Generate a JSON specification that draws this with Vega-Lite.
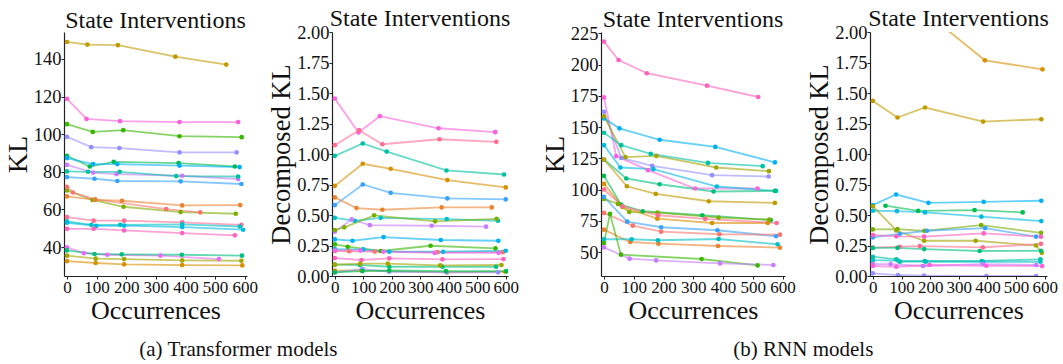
{
  "$schema": "https://vega.github.io/schema/vega-lite/v6.json",
  "padding": {"left": 4, "top": 7, "right": 0, "bottom": 0},
  "background": "white",
  "config": {
    "font": "Liberation Serif",
    "view": {"stroke": null},
    "axis": {"grid": false, "domainColor": "#222", "domainWidth": 1.2, "tickColor": "#222", "tickSize": 3, "labelColor": "#111", "titleColor": "#111", "labelFont": "Liberation Serif", "titleFont": "Liberation Serif", "titleFontWeight": "normal", "labelFontSize": 18.5},
    "title": {"font": "Liberation Serif", "fontWeight": "normal", "color": "#111"},
    "concat": {"spacing": 10}
  },
  "datasets": {
    "p1": [
      {"m":4,"x":0,"y":149.0},{"m":4,"x":69,"y":147.6},{"m":4,"x":172,"y":147.3},{"m":4,"x":366,"y":141.2},{"m":4,"x":538,"y":137.0},
      {"m":18,"x":0,"y":118.8},{"m":18,"x":66,"y":108.1},{"m":18,"x":179,"y":106.9},{"m":18,"x":380,"y":106.4},{"m":18,"x":578,"y":106.4},
      {"m":7,"x":0,"y":105.3},{"m":7,"x":87,"y":101.2},{"m":7,"x":190,"y":102.1},{"m":7,"x":380,"y":98.9},{"m":7,"x":590,"y":98.4},
      {"m":15,"x":0,"y":98.6},{"m":15,"x":82,"y":93.1},{"m":15,"x":177,"y":92.6},{"m":15,"x":380,"y":90.3},{"m":15,"x":573,"y":90.3},
      {"m":8,"x":0,"y":88.5},{"m":8,"x":77,"y":82.8},{"m":8,"x":158,"y":85.3},{"m":8,"x":377,"y":84.6},{"m":8,"x":567,"y":82.8},
      {"m":13,"x":0,"y":87.3},{"m":13,"x":88,"y":84.1},{"m":13,"x":170,"y":84.1},{"m":13,"x":380,"y":83.3},{"m":13,"x":583,"y":82.5},
      {"m":16,"x":0,"y":83.7},{"m":16,"x":88,"y":79.6},{"m":16,"x":167,"y":78.8},{"m":16,"x":389,"y":77.9},{"m":16,"x":578,"y":76.1},
      {"m":10,"x":0,"y":80.2},{"m":10,"x":71,"y":80.0},{"m":10,"x":178,"y":80.0},{"m":10,"x":369,"y":77.7},{"m":10,"x":578,"y":77.5},
      {"m":14,"x":0,"y":77.2},{"m":14,"x":93,"y":76.3},{"m":14,"x":170,"y":75.1},{"m":14,"x":384,"y":74.9},{"m":14,"x":589,"y":73.5},
      {"m":6,"x":0,"y":70.1},{"m":6,"x":86,"y":65.0},{"m":6,"x":191,"y":61.4},{"m":6,"x":384,"y":58.6},{"m":6,"x":570,"y":57.7},
      {"m":1,"x":0,"y":72.0},{"m":1,"x":20,"y":69.0},{"m":1,"x":95,"y":65.3},{"m":1,"x":335,"y":60.2},{"m":1,"x":450,"y":58.4},
      {"m":2,"x":0,"y":66.9},{"m":2,"x":96,"y":65.1},{"m":2,"x":186,"y":64.6},{"m":2,"x":389,"y":62.1},{"m":2,"x":585,"y":62.3},
      {"m":20,"x":0,"y":55.9},{"m":20,"x":90,"y":54.0},{"m":20,"x":193,"y":54.0},{"m":20,"x":389,"y":53.1},{"m":20,"x":589,"y":51.8},
      {"m":11,"x":0,"y":53.6},{"m":11,"x":82,"y":51.8},{"m":11,"x":180,"y":51.8},{"m":11,"x":389,"y":52.0},{"m":11,"x":584,"y":50.9},
      {"m":12,"x":0,"y":52.9},{"m":12,"x":99,"y":51.2},{"m":12,"x":193,"y":51.4},{"m":12,"x":389,"y":50.6},{"m":12,"x":595,"y":49.2},
      {"m":19,"x":0,"y":49.7},{"m":19,"x":90,"y":49.7},{"m":19,"x":193,"y":48.8},{"m":19,"x":389,"y":47.4},{"m":19,"x":567,"y":46.2},
      {"m":17,"x":0,"y":39.8},{"m":17,"x":57,"y":36.8},{"m":17,"x":136,"y":35.9},{"m":17,"x":316,"y":35.4},{"m":17,"x":513,"y":33.6},
      {"m":9,"x":0,"y":38.2},{"m":9,"x":93,"y":36.3},{"m":9,"x":185,"y":36.1},{"m":9,"x":388,"y":35.9},{"m":9,"x":591,"y":35.4},
      {"m":5,"x":0,"y":35.4},{"m":5,"x":97,"y":33.8},{"m":5,"x":193,"y":33.6},{"m":5,"x":389,"y":32.9},{"m":5,"x":589,"y":32.7},
      {"m":3,"x":0,"y":32.5},{"m":3,"x":97,"y":31.5},{"m":3,"x":193,"y":30.8},{"m":3,"x":389,"y":30.4},{"m":3,"x":592,"y":30.2}
    ],
    "p2": [
      {"m":18,"x":0,"y":1.454},{"m":18,"x":83,"y":1.176},{"m":18,"x":158,"y":1.310},{"m":18,"x":364,"y":1.211},{"m":18,"x":563,"y":1.179},
      {"m":20,"x":0,"y":1.072},{"m":20,"x":85,"y":1.195},{"m":20,"x":167,"y":1.080},{"m":20,"x":367,"y":1.121},{"m":20,"x":567,"y":1.100},
      {"m":10,"x":0,"y":0.985},{"m":10,"x":98,"y":1.086},{"m":10,"x":182,"y":1.020},{"m":10,"x":392,"y":0.865},{"m":10,"x":594,"y":0.832},
      {"m":3,"x":0,"y":0.739},{"m":3,"x":98,"y":0.920},{"m":3,"x":196,"y":0.879},{"m":3,"x":395,"y":0.786},{"m":3,"x":600,"y":0.726},
      {"m":14,"x":0,"y":0.581},{"m":14,"x":98,"y":0.750},{"m":14,"x":196,"y":0.682},{"m":14,"x":395,"y":0.636},{"m":14,"x":600,"y":0.628},
      {"m":2,"x":0,"y":0.644},{"m":2,"x":76,"y":0.557},{"m":2,"x":167,"y":0.543},{"m":2,"x":375,"y":0.562},{"m":2,"x":551,"y":0.562},
      {"m":11,"x":0,"y":0.477},{"m":11,"x":70,"y":0.453},{"m":11,"x":161,"y":0.477},{"m":11,"x":393,"y":0.467},{"m":11,"x":573,"y":0.453},
      {"m":16,"x":0,"y":0.363},{"m":16,"x":59,"y":0.464},{"m":16,"x":123,"y":0.417},{"m":16,"x":340,"y":0.412},{"m":16,"x":531,"y":0.404},
      {"m":6,"x":0,"y":0.377},{"m":6,"x":33,"y":0.399},{"m":6,"x":138,"y":0.497},{"m":6,"x":352,"y":0.448},{"m":6,"x":568,"y":0.469},
      {"m":13,"x":0,"y":0.300},{"m":13,"x":62,"y":0.289},{"m":13,"x":171,"y":0.319},{"m":13,"x":372,"y":0.295},{"m":13,"x":574,"y":0.289},
      {"m":7,"x":0,"y":0.259},{"m":7,"x":45,"y":0.240},{"m":7,"x":161,"y":0.205},{"m":7,"x":336,"y":0.248},{"m":7,"x":564,"y":0.227},
      {"m":1,"x":0,"y":0.205},{"m":1,"x":50,"y":0.203},{"m":1,"x":140,"y":0.200},{"m":1,"x":360,"y":0.195},{"m":1,"x":590,"y":0.195},
      {"m":12,"x":0,"y":0.221},{"m":12,"x":100,"y":0.218},{"m":12,"x":191,"y":0.199},{"m":12,"x":380,"y":0.199},{"m":12,"x":600,"y":0.207},
      {"m":17,"x":0,"y":0.210},{"m":17,"x":90,"y":0.210},{"m":17,"x":170,"y":0.200},{"m":17,"x":350,"y":0.190},{"m":17,"x":575,"y":0.190},
      {"m":19,"x":0,"y":0.147},{"m":19,"x":93,"y":0.131},{"m":19,"x":191,"y":0.145},{"m":19,"x":378,"y":0.137},{"m":19,"x":592,"y":0.139},
      {"m":9,"x":0,"y":0.093},{"m":9,"x":88,"y":0.090},{"m":9,"x":191,"y":0.076},{"m":9,"x":378,"y":0.076},{"m":9,"x":566,"y":0.076},
      {"m":5,"x":0,"y":0.093},{"m":5,"x":89,"y":0.101},{"m":5,"x":186,"y":0.101},{"m":5,"x":370,"y":0.087},{"m":5,"x":585,"y":0.090},
      {"m":4,"x":0,"y":0.044},{"m":4,"x":93,"y":0.046},{"m":4,"x":191,"y":0.040},{"m":4,"x":394,"y":0.030},{"m":4,"x":598,"y":0.035},
      {"m":15,"x":0,"y":0.030},{"m":15,"x":97,"y":0.057},{"m":15,"x":191,"y":0.035},{"m":15,"x":392,"y":0.030},{"m":15,"x":573,"y":0.030},
      {"m":8,"x":0,"y":0.030},{"m":8,"x":97,"y":0.040},{"m":8,"x":191,"y":0.045},{"m":8,"x":390,"y":0.040},{"m":8,"x":602,"y":0.040}
    ],
    "p3": [
      {"m":19,"x":0,"y":218.3},{"m":19,"x":49,"y":203.6},{"m":19,"x":144,"y":193.0},{"m":19,"x":346,"y":183.1},{"m":19,"x":518,"y":174.0},
      {"m":18,"x":0,"y":173.7},{"m":18,"x":41,"y":126.7},{"m":18,"x":148,"y":115.5},{"m":18,"x":306,"y":100.8},{"m":18,"x":516,"y":100.8},
      {"m":15,"x":0,"y":162.2},{"m":15,"x":58,"y":125.3},{"m":15,"x":162,"y":118.9},{"m":15,"x":363,"y":111.5},{"m":15,"x":553,"y":110.4},
      {"m":13,"x":0,"y":156.9},{"m":13,"x":52,"y":148.9},{"m":13,"x":187,"y":139.8},{"m":13,"x":374,"y":134.1},{"m":13,"x":574,"y":121.7},
      {"m":5,"x":0,"y":158.5},{"m":5,"x":72,"y":125.9},{"m":5,"x":176,"y":126.9},{"m":5,"x":377,"y":117.6},{"m":5,"x":554,"y":114.7},
      {"m":10,"x":0,"y":145.4},{"m":10,"x":58,"y":135.5},{"m":10,"x":157,"y":128.5},{"m":10,"x":349,"y":121.3},{"m":10,"x":533,"y":118.7},
      {"m":12,"x":0,"y":135.5},{"m":12,"x":55,"y":117.6},{"m":12,"x":166,"y":116.3},{"m":12,"x":379,"y":102.4},{"m":12,"x":578,"y":98.9},
      {"m":9,"x":0,"y":124.0},{"m":9,"x":75,"y":108.8},{"m":9,"x":187,"y":104.2},{"m":9,"x":368,"y":98.4},{"m":9,"x":574,"y":98.9},
      {"m":4,"x":0,"y":124.0},{"m":4,"x":77,"y":102.6},{"m":4,"x":174,"y":96.5},{"m":4,"x":352,"y":90.6},{"m":4,"x":574,"y":89.3},
      {"m":8,"x":0,"y":110.9},{"m":8,"x":57,"y":88.0},{"m":8,"x":130,"y":82.6},{"m":8,"x":330,"y":79.4},{"m":8,"x":560,"y":75.5},
      {"m":6,"x":0,"y":92.5},{"m":6,"x":47,"y":88.5},{"m":6,"x":85,"y":82.0},{"m":6,"x":180,"y":81.5},{"m":6,"x":385,"y":77.5},{"m":6,"x":555,"y":76.0},
      {"m":3,"x":0,"y":104.5},{"m":3,"x":62,"y":86.0},{"m":3,"x":179,"y":76.7},{"m":3,"x":363,"y":73.2},{"m":3,"x":550,"y":73.2},
      {"m":20,"x":0,"y":100.0},{"m":20,"x":62,"y":86.6},{"m":20,"x":182,"y":79.4},{"m":20,"x":340,"y":76.5},{"m":20,"x":580,"y":73.2},
      {"m":14,"x":0,"y":94.1},{"m":14,"x":78,"y":74.3},{"m":14,"x":192,"y":69.8},{"m":14,"x":381,"y":67.4},{"m":14,"x":578,"y":62.6},
      {"m":1,"x":0,"y":81.3},{"m":1,"x":97,"y":71.1},{"m":1,"x":192,"y":66.3},{"m":1,"x":388,"y":64.2},{"m":1,"x":591,"y":63.9},
      {"m":2,"x":0,"y":67.9},{"m":2,"x":88,"y":58.0},{"m":2,"x":183,"y":56.7},{"m":2,"x":383,"y":54.8},{"m":2,"x":591,"y":53.5},
      {"m":11,"x":0,"y":60.2},{"m":11,"x":93,"y":60.2},{"m":11,"x":181,"y":59.4},{"m":11,"x":385,"y":60.4},{"m":11,"x":583,"y":56.2},
      {"m":7,"x":0,"y":57.2},{"m":7,"x":20,"y":80.5},{"m":7,"x":57,"y":47.9},{"m":7,"x":328,"y":44.4},{"m":7,"x":516,"y":39.3},
      {"m":16,"x":0,"y":53.7},{"m":16,"x":86,"y":44.7},{"m":16,"x":175,"y":43.3},{"m":16,"x":390,"y":40.9},{"m":16,"x":569,"y":39.6}
    ],
    "p4": [
      {"m":3,"x":0,"y":2.6},{"m":3,"x":90,"y":2.4},{"m":3,"x":190,"y":2.15},{"m":3,"x":391,"y":1.768},{"m":3,"x":592,"y":1.694},
      {"m":4,"x":0,"y":1.435},{"m":4,"x":86,"y":1.299},{"m":4,"x":182,"y":1.381},{"m":4,"x":385,"y":1.266},{"m":4,"x":588,"y":1.285},
      {"m":13,"x":0,"y":0.581},{"m":13,"x":81,"y":0.668},{"m":13,"x":194,"y":0.600},{"m":13,"x":387,"y":0.608},{"m":13,"x":588,"y":0.617},
      {"m":8,"x":44,"y":0.576},{"m":8,"x":158,"y":0.534},{"m":8,"x":355,"y":0.540},{"m":8,"x":523,"y":0.521},
      {"m":12,"x":0,"y":0.535},{"m":12,"x":84,"y":0.532},{"m":12,"x":182,"y":0.521},{"m":12,"x":379,"y":0.486},{"m":12,"x":588,"y":0.450},
      {"m":5,"x":0,"y":0.572},{"m":5,"x":82,"y":0.373},{"m":5,"x":179,"y":0.289},{"m":5,"x":359,"y":0.289},{"m":5,"x":570,"y":0.250},{"m":5,"x":590,"y":0.190},
      {"m":6,"x":0,"y":0.382},{"m":6,"x":86,"y":0.385},{"m":6,"x":180,"y":0.370},{"m":6,"x":378,"y":0.417},{"m":6,"x":587,"y":0.354},
      {"m":14,"x":0,"y":0.317},{"m":14,"x":94,"y":0.346},{"m":14,"x":189,"y":0.371},{"m":14,"x":392,"y":0.393},{"m":14,"x":570,"y":0.322},
      {"m":19,"x":0,"y":0.336},{"m":19,"x":82,"y":0.325},{"m":19,"x":179,"y":0.322},{"m":19,"x":387,"y":0.349},{"m":19,"x":587,"y":0.322},
      {"m":20,"x":0,"y":0.232},{"m":20,"x":94,"y":0.240},{"m":20,"x":164,"y":0.245},{"m":20,"x":384,"y":0.234},{"m":20,"x":587,"y":0.264},
      {"m":9,"x":0,"y":0.230},{"m":9,"x":86,"y":0.230},{"m":9,"x":179,"y":0.221},{"m":9,"x":373,"y":0.205},{"m":9,"x":587,"y":0.207},
      {"m":10,"x":0,"y":0.158},{"m":10,"x":82,"y":0.137},{"m":10,"x":94,"y":0.117},{"m":10,"x":181,"y":0.123},{"m":10,"x":380,"y":0.123},{"m":10,"x":585,"y":0.137},
      {"m":11,"x":0,"y":0.130},{"m":11,"x":90,"y":0.125},{"m":11,"x":185,"y":0.117},{"m":11,"x":385,"y":0.117},{"m":11,"x":585,"y":0.117},
      {"m":16,"x":0,"y":0.098},{"m":16,"x":62,"y":0.098},{"m":16,"x":175,"y":0.082},{"m":16,"x":384,"y":0.098},{"m":16,"x":570,"y":0.090},
      {"m":18,"x":0,"y":0.082},{"m":18,"x":82,"y":0.076},{"m":18,"x":198,"y":0.090},{"m":18,"x":396,"y":0.084},{"m":18,"x":591,"y":0.082},
      {"m":15,"x":0,"y":0.022},{"m":15,"x":88,"y":0.008},{"m":15,"x":179,"y":0.003},{"m":15,"x":396,"y":0.0},{"m":15,"x":570,"y":0.0}
    ]
  },
  "hconcat": [
    {
      "title": {"text": "(a) Transformer models", "orient": "bottom", "fontSize": 21, "offset": 16, "anchor": "middle", "dx": -23},
      "spacing": 10,
      "hconcat": [
        {
          "width": 183, "height": 244,
          "title": {"text": "State Interventions", "fontSize": 24, "offset": -1},
          "data": {"name": "p1"},
          "encoding": {
            "x": {"field": "x", "type": "quantitative", "scale": {"domain": [-10, 608], "nice": false, "zero": false}, "axis": {"title": "Occurrences", "titleFontSize": 26, "values": [0,100,200,300,400,500,600], "labelOverlap": false, "labelFlush": false, "labelPadding": 0, "titlePadding": 2, "labelFontSize": 17}},
            "y": {"field": "y", "type": "quantitative", "scale": {"domain": [24.6, 154.3], "nice": false, "zero": false}, "axis": {"title": "KL", "titleFontSize": 28, "values": [40,60,80,100,120,140], "labelPadding": 0, "titlePadding": 1}},
            "color": {"field": "m", "type": "nominal", "legend": null, "scale": {"domain": [1,2,3,4,5,6,7,8,9,10,11,12,13,14,15,16,17,18,19,20], "range": ["#F8766D","#EA8331","#D89000","#C09B00","#A3A500","#7CAE00","#39B600","#00BB4E","#00BF7D","#00C1A3","#00BFC4","#00BAE0","#00B0F6","#35A2FF","#9590FF","#C77CFF","#E76BF3","#FA62DB","#FF62BC","#FF6C91"]}}
          },
          "layer": [
            {"mark": {"type": "line", "strokeWidth": 1.8, "opacity": 0.6, "clip": true}},
            {"mark": {"type": "circle", "size": 22, "opacity": 1, "clip": true}}
          ]
        },
        {
          "width": 176, "height": 244,
          "title": {"text": "State Interventions", "fontSize": 24, "offset": -8},
          "data": {"name": "p2"},
          "encoding": {
            "x": {"field": "x", "type": "quantitative", "scale": {"domain": [-10, 608], "nice": false, "zero": false}, "axis": {"title": "Occurrences", "titleFontSize": 26, "values": [0,100,200,300,400,500,600], "labelOverlap": false, "labelFlush": false, "labelPadding": 0, "titlePadding": 2, "labelFontSize": 17}},
            "y": {"field": "y", "type": "quantitative", "scale": {"domain": [0, 2], "nice": false}, "axis": {"title": "Decomposed KL", "titleFontSize": 26.5, "values": [0,0.25,0.5,0.75,1,1.25,1.5,1.75,2], "format": ".2f", "labelPadding": 0, "titlePadding": 1}},
            "color": {"field": "m", "type": "nominal", "legend": null, "scale": {"domain": [1,2,3,4,5,6,7,8,9,10,11,12,13,14,15,16,17,18,19,20], "range": ["#F8766D","#EA8331","#D89000","#C09B00","#A3A500","#7CAE00","#39B600","#00BB4E","#00BF7D","#00C1A3","#00BFC4","#00BAE0","#00B0F6","#35A2FF","#9590FF","#C77CFF","#E76BF3","#FA62DB","#FF62BC","#FF6C91"]}}
          },
          "layer": [
            {"mark": {"type": "line", "strokeWidth": 1.8, "opacity": 0.6, "clip": true}},
            {"mark": {"type": "circle", "size": 22, "opacity": 1, "clip": true}}
          ]
        }
      ]
    },
    {
      "title": {"text": "(b) RNN models", "orient": "bottom", "fontSize": 21, "offset": 16, "anchor": "middle", "dx": 4},
      "spacing": 10,
      "hconcat": [
        {
          "width": 184, "height": 244,
          "title": {"text": "State Interventions", "fontSize": 24, "offset": -8},
          "data": {"name": "p3"},
          "encoding": {
            "x": {"field": "x", "type": "quantitative", "scale": {"domain": [-10, 608], "nice": false, "zero": false}, "axis": {"title": "Occurrences", "titleFontSize": 26, "values": [0,100,200,300,400,500,600], "labelOverlap": false, "labelFlush": false, "labelPadding": 0, "titlePadding": 2, "labelFontSize": 17}},
            "y": {"field": "y", "type": "quantitative", "scale": {"domain": [30.8, 226], "nice": false, "zero": false}, "axis": {"title": "KL", "titleFontSize": 28, "values": [50,75,100,125,150,175,200,225], "labelPadding": 0, "titlePadding": 1}},
            "color": {"field": "m", "type": "nominal", "legend": null, "scale": {"domain": [1,2,3,4,5,6,7,8,9,10,11,12,13,14,15,16,17,18,19,20], "range": ["#F8766D","#EA8331","#D89000","#C09B00","#A3A500","#7CAE00","#39B600","#00BB4E","#00BF7D","#00C1A3","#00BFC4","#00BAE0","#00B0F6","#35A2FF","#9590FF","#C77CFF","#E76BF3","#FA62DB","#FF62BC","#FF6C91"]}}
          },
          "layer": [
            {"mark": {"type": "line", "strokeWidth": 1.8, "opacity": 0.6, "clip": true}},
            {"mark": {"type": "circle", "size": 22, "opacity": 1, "clip": true}}
          ]
        },
        {
          "width": 177, "height": 244,
          "title": {"text": "State Interventions", "fontSize": 24, "offset": -8},
          "data": {"name": "p4"},
          "encoding": {
            "x": {"field": "x", "type": "quantitative", "scale": {"domain": [-10, 608], "nice": false, "zero": false}, "axis": {"title": "Occurrences", "titleFontSize": 26, "values": [0,100,200,300,400,500,600], "labelOverlap": false, "labelFlush": false, "labelPadding": 0, "titlePadding": 2, "labelFontSize": 17}},
            "y": {"field": "y", "type": "quantitative", "scale": {"domain": [0, 2], "nice": false}, "axis": {"title": "Decomposed KL", "titleFontSize": 26.5, "values": [0,0.25,0.5,0.75,1,1.25,1.5,1.75,2], "format": ".2f", "labelPadding": 0, "titlePadding": 1}},
            "color": {"field": "m", "type": "nominal", "legend": null, "scale": {"domain": [1,2,3,4,5,6,7,8,9,10,11,12,13,14,15,16,17,18,19,20], "range": ["#F8766D","#EA8331","#D89000","#C09B00","#A3A500","#7CAE00","#39B600","#00BB4E","#00BF7D","#00C1A3","#00BFC4","#00BAE0","#00B0F6","#35A2FF","#9590FF","#C77CFF","#E76BF3","#FA62DB","#FF62BC","#FF6C91"]}}
          },
          "layer": [
            {"mark": {"type": "line", "strokeWidth": 1.8, "opacity": 0.6, "clip": true}},
            {"mark": {"type": "circle", "size": 22, "opacity": 1, "clip": true}}
          ]
        }
      ]
    }
  ],
  "spacing": 22,
  "resolve": {"scale": {"color": "shared"}}
}
